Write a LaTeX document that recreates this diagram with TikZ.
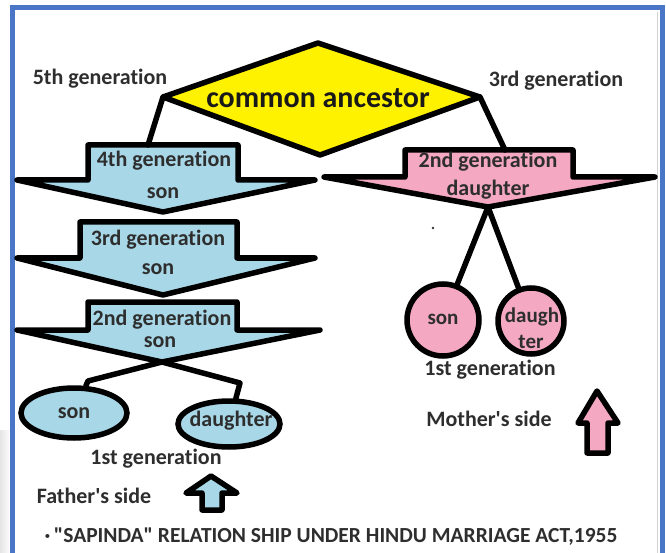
\documentclass[tikz,border=0pt]{standalone}
\usepackage{fontspec}
\setmainfont{Carlito}[Ligatures={NoCommon,TeXOff}]
\usetikzlibrary{shapes.geometric}
\definecolor{lblue}{HTML}{A8D8E8}
\definecolor{lpink}{HTML}{F4A8C2}
\definecolor{dyellow}{HTML}{FFF200}
\definecolor{frameblue}{HTML}{4A76C8}
\definecolor{txt}{HTML}{2E2E2E}
\begin{document}
\begin{tikzpicture}[x=1pt,y=-1pt,
  outl/.style={draw=black,line width=5.5pt,line join=round,line cap=round},
  conn/.style={draw=black,line width=5.5pt,line cap=round,line join=round},
  lbl/.style={font=\bfseries\fontsize{22}{24}\selectfont,text=txt,inner sep=0pt},
  small/.style={font=\bfseries\fontsize{21}{22}\selectfont,text=txt,inner sep=0pt}]
\useasboundingbox (0,0) rectangle (666,553);
\fill[white] (0,0) rectangle (666,553);
\shade[left color=gray!20,right color=white] (0,430) rectangle (11,553);
% frame
\draw[frameblue,line width=5pt] (12.5,8) rectangle (662.5,600);
\draw[gray!35,line width=1pt] (657,12) -- (657,553);
% diamond
\coordinate (dL) at (163,97);
\coordinate (dT) at (318,43);
\coordinate (dR) at (480,97);
\coordinate (dB) at (320,155);
\filldraw[outl,fill=dyellow] (dL) -- (dT) -- (dR) -- (dB) -- cycle;
\node[font=\bfseries\fontsize{30}{32}\selectfont,text=black!90,inner sep=0pt] (anc) at (318,98) {common ancestor};
\node[lbl] (g5) at (100,79) {5th generation};
\node[lbl] (g3) at (556,81) {3rd generation};
% arrow A (4th gen)
\coordinate (aTop) at (148,145);
\coordinate (aTip) at (163,212);
\filldraw[outl,fill=lblue] (88,180) -- (88,145) -- (238,145) -- (238,180) -- (315,180) -- (aTip) -- (17,180) -- cycle;
\node[lbl] (a1) at (164,161) {4th generation};
\node[lbl] (a2) at (163,193) {son};
% arrow B (3rd gen)
\coordinate (bTip) at (163,295);
\filldraw[outl,fill=lblue] (80,258) -- (80,222) -- (237,222) -- (237,258) -- (315,258) -- (bTip) -- (17,258) -- cycle;
\node[lbl] (b1) at (158,240) {3rd generation};
\node[lbl] (b2) at (158,269) {son};
% arrow C (2nd gen son)
\coordinate (cTip) at (162,362);
\filldraw[outl,fill=lblue] (88,330) -- (88,302) -- (237,302) -- (237,330) -- (320,330) -- (cTip) -- (17,330) -- cycle;
\node[lbl] (c1) at (162,320) {2nd generation};
\node[lbl] (c2) at (160,342) {son};
% pink arrow
\coordinate (pTop) at (505,150);
\coordinate (pTip) at (488,207);
\filldraw[outl,fill=lpink] (405,177) -- (405,150) -- (573,150) -- (573,177) -- (655,177) -- (pTip) -- (324,177) -- cycle;
\node[lbl] (p1) at (488,162) {2nd generation};
\node[lbl] (p2) at (488,190) {daughter};
% connectors from diamond
\draw[conn] (dL) -- (aTop);
\draw[conn] (dR) -- (pTop);
% left children
\node[draw=black,line width=5.5pt,fill=lblue,ellipse,minimum width=106pt,minimum height=50pt,inner sep=0pt] (sonL) at (74,413) {};
\node[lbl] at (sonL) {son};
\node[draw=black,line width=5.5pt,fill=lblue,ellipse,minimum width=102pt,minimum height=46pt,inner sep=0pt] (dauL) at (229,424) {};
\node[lbl] at (231,421) {daughter};
\coordinate (sBend) at (88,381);
\coordinate (dBend) at (240,383);
\draw[conn] (cTip) -- (sBend) -- (sonL);
\draw[conn] (cTip) -- (dBend) -- (dauL);
% right children
\node[draw=black,line width=5.5pt,fill=lpink,circle,minimum size=72pt,inner sep=0pt] (sonR) at (443,320) {};
\node[small] at (443,319) {son};
\node[draw=black,line width=5.5pt,fill=lpink,circle,minimum size=66pt,inner sep=0pt] (dauR) at (531,321) {};
\node[small] at (532,317) {daugh};
\node[small] at (531,342) {ter};
\draw[conn] (pTip) -- (sonR);
\draw[conn] (pTip) -- (dauR);
\fill[black!80] (433,228) circle (1.3);
% generation labels
\node[lbl] (g1L) at (156,459) {1st generation};
\node[lbl] (g1R) at (490,370) {1st generation};
\node[lbl] (fs) at (94,496) {Father's side};
\node[lbl] (ms) at (489,419) {Mother's side};
% up arrows
\filldraw[outl,fill=lblue] (202,510) -- (202,493) -- (186,493) -- (211,476) -- (237,493) -- (222,493) -- (222,510) -- cycle;
\filldraw[outl,fill=lpink] (587,453) -- (587,423) -- (578,423) -- (597,391) -- (618,423) -- (608,423) -- (608,453) -- cycle;
% footer
\node[lbl,font=\bfseries\fontsize{21.5}{23}\selectfont] (foot) at (331,537) {·\,"SAPINDA" RELATION SHIP UNDER HINDU MARRIAGE ACT,1955};
\end{tikzpicture}
\end{document}
